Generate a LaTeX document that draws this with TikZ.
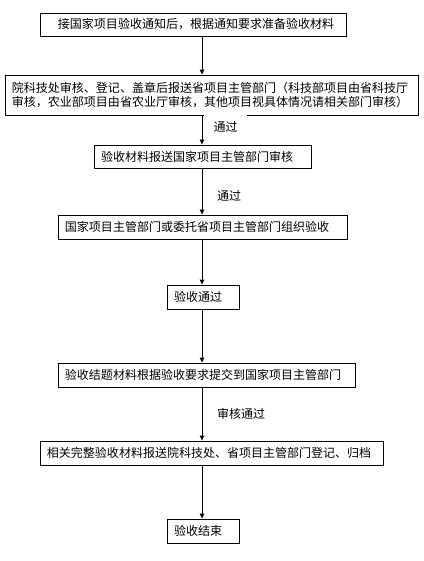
\documentclass[tikz,border=0pt]{standalone}
\usepackage{fontspec}
\newfontfamily\cjk{Noto Sans CJK SC}
\usetikzlibrary{arrows.meta}
\begin{document}
\begin{tikzpicture}[x=1bp,y=-1bp,
  boxst/.style={draw,line width=0.9bp,inner xsep=7bp,inner ysep=0bp,align=left,
    font=\cjk\fontsize{12bp}{14bp}\selectfont},
  lbl/.style={inner sep=2bp,font=\cjk\fontsize{12bp}{14bp}\selectfont},
  arr/.style={line width=0.9bp,-{Triangle[length=5bp,width=4.5bp]}}]
\useasboundingbox (0,0) rectangle (423,561);
\coordinate (ax) at (202,0);
\node[boxst,minimum width=306bp,minimum height=23bp,text width=292bp] (b1) at (193,24.5)
  {\hspace*{11bp}接国家项目验收通知后，根据通知要求准备验收材料};
\node[boxst,minimum width=413bp,minimum height=40bp,text width=399bp] (b2) at (211.5,95)
  {院科技处审核、登记、盖章后报送省项目主管部门（科技部项目由省科技厅\\审核，农业部项目由省农业厅审核，其他项目视具体情况请相关部门审核）};
\node[boxst,minimum width=217bp,minimum height=23bp,text width=203bp] (b3) at (202.5,156.5)
  {验收材料报送国家项目主管部门审核};
\node[boxst,minimum width=289bp,minimum height=24bp,text width=275bp] (b4) at (202.5,227)
  {国家项目主管部门或委托省项目主管部门组织验收};
\node[boxst,minimum width=72bp,minimum height=24bp,text width=58bp] (b5) at (203,297)
  {验收通过};
\node[boxst,minimum width=297bp,minimum height=24bp,text width=283bp] (b6) at (206.5,375)
  {验收结题材料根据验收要求提交到国家项目主管部门};
\node[boxst,minimum width=343bp,minimum height=24bp,text width=329bp] (b7) at (211.5,453)
  {相关完整验收材料报送院科技处、省项目主管部门登记、归档};
\node[boxst,minimum width=72bp,minimum height=24bp,text width=58bp] (b8) at (203,531)
  {验收结束};
\node[lbl,fill=white,minimum width=43bp,minimum height=26bp] (l1) at (225.5,127) {通过};
\node[lbl] (l2) at (229,196) {通过};
\node[lbl] (l3) at (241,414) {审核通过};
\draw[arr] (b1.south -| ax) -- (b2.north -| ax);
\draw[arr] (b2.south -| ax) -- (b3.north -| ax);
\draw[arr] (b3.south -| ax) -- (b4.north -| ax);
\draw[arr] (b4.south -| ax) -- (b5.north -| ax);
\draw[arr] (b5.south -| ax) -- (b6.north -| ax);
\draw[arr] (b6.south -| ax) -- (b7.north -| ax);
\draw[arr] (b7.south -| ax) -- (b8.north -| ax);
\end{tikzpicture}
\end{document}
